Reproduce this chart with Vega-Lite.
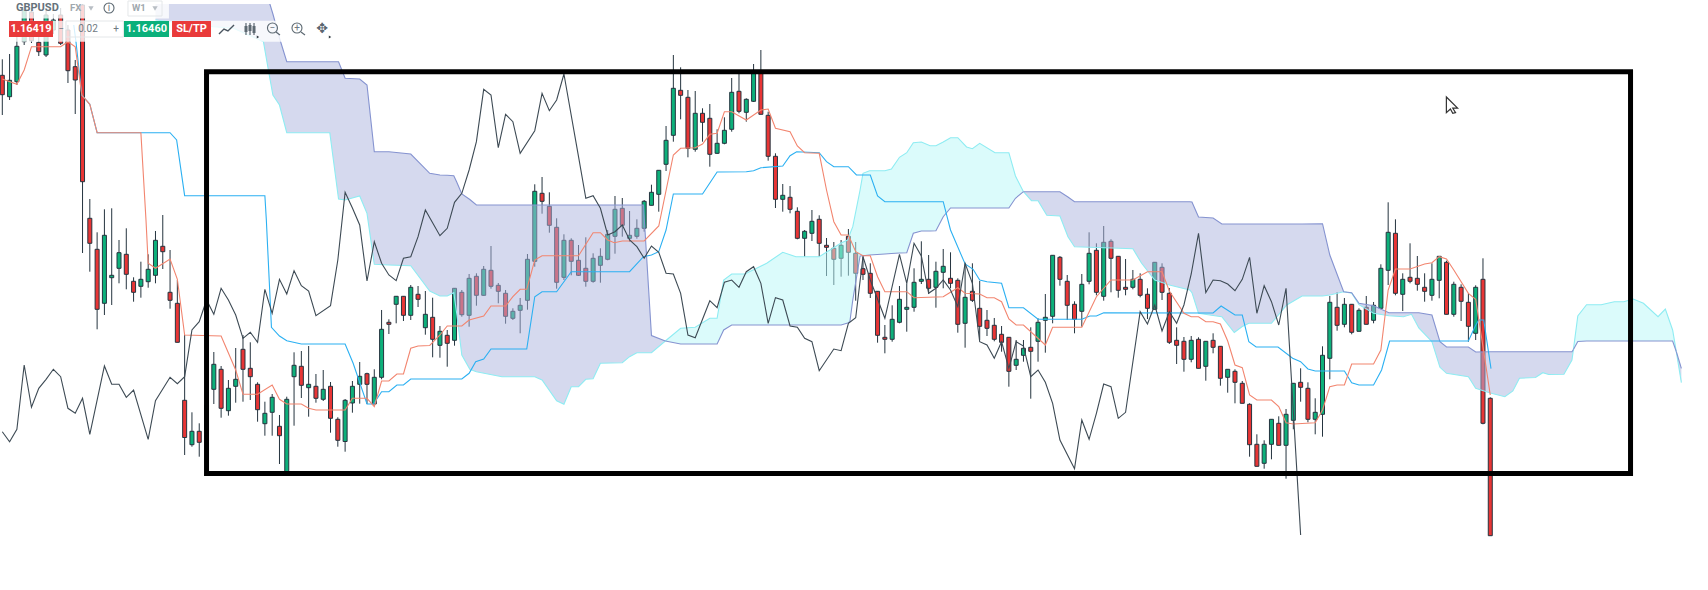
{
"$schema":"https://vega.github.io/schema/vega-lite/v6.json",
"autosize":{"type":"none"},
"padding":0,
"width":1708,
"height":590,
"background":"white",
"config":{"view":{"stroke":null},"axis":{"grid":false}},
"datasets":{
"candles":[
{"week":0,"open":1.6247,"high":1.6407,"low":1.585,"close":1.6053},{"week":1,"open":1.6033,"high":1.646,"low":1.6,"close":1.6197},{"week":2,"open":1.6183,"high":1.664,"low":1.615,"close":1.6537},{"week":3,"open":1.6583,"high":1.694,"low":1.655,"close":1.69},{"week":4,"open":1.688,"high":1.692,"low":1.657,"close":1.6593},{"week":5,"open":1.6577,"high":1.667,"low":1.644,"close":1.6483},{"week":6,"open":1.645,"high":1.69,"low":1.643,"close":1.685},{"week":7,"open":1.67,"high":1.686,"low":1.666,"close":1.68},{"week":8,"open":1.685,"high":1.692,"low":1.655,"close":1.6567},{"week":9,"open":1.67,"high":1.675,"low":1.617,"close":1.6293},
{"week":10,"open":1.6333,"high":1.64,"low":1.586,"close":1.62},{"week":11,"open":1.695,"high":1.7,"low":1.447,"close":1.5183},{"week":12,"open":1.4817,"high":1.501,"low":1.4283,"close":1.4567},{"week":13,"open":1.4507,"high":1.4677,"low":1.3707,"close":1.3907},{"week":14,"open":1.3967,"high":1.4907,"low":1.385,"close":1.4647},{"week":15,"open":1.4223,"high":1.4917,"low":1.395,"close":1.4247},{"week":16,"open":1.4317,"high":1.46,"low":1.4167,"close":1.4473},{"week":17,"open":1.4457,"high":1.4717,"low":1.4107,"close":1.4257},{"week":18,"open":1.4187,"high":1.4227,"low":1.3983,"close":1.4077},{"week":19,"open":1.4137,"high":1.4383,"low":1.4023,"close":1.4207},
{"week":20,"open":1.4183,"high":1.4457,"low":1.4123,"close":1.4307},{"week":21,"open":1.4247,"high":1.469,"low":1.4167,"close":1.4597},{"week":22,"open":1.4537,"high":1.485,"low":1.431,"close":1.4483},{"week":23,"open":1.4077,"high":1.45,"low":1.3913,"close":1.3997},{"week":24,"open":1.3967,"high":1.42,"low":1.3577,"close":1.3577},{"week":25,"open":1.2997,"high":1.365,"low":1.245,"close":1.2625},{"week":26,"open":1.2553,"high":1.2877,"low":1.2533,"close":1.2687},{"week":27,"open":1.2687,"high":1.2767,"low":1.2433,"close":1.2577},{"week":28,"open":1.27,"high":1.305,"low":1.26,"close":1.295},{"week":29,"open":1.3107,"high":1.348,"low":1.296,"close":1.3357},
{"week":30,"open":1.3307,"high":1.334,"low":1.2823,"close":1.2917},{"week":31,"open":1.2893,"high":1.32,"low":1.2843,"close":1.3117},{"week":32,"open":1.3137,"high":1.352,"low":1.2973,"close":1.3207},{"week":33,"open":1.3507,"high":1.365,"low":1.2983,"close":1.3307},{"week":34,"open":1.3317,"high":1.3577,"low":1.3,"close":1.3233},{"week":35,"open":1.3157,"high":1.3177,"low":1.2783,"close":1.2903},{"week":36,"open":1.2763,"high":1.2983,"low":1.2643,"close":1.2867},{"week":37,"open":1.2877,"high":1.306,"low":1.2643,"close":1.3027},{"week":38,"open":1.2737,"high":1.285,"low":1.236,"close":1.2643},{"week":39,"open":1.228,"high":1.3033,"low":1.228,"close":1.3007},
{"week":40,"open":1.3233,"high":1.3477,"low":1.2743,"close":1.3347},{"week":41,"open":1.3337,"high":1.349,"low":1.302,"close":1.3147},{"week":42,"open":1.3123,"high":1.354,"low":1.2833,"close":1.3157},{"week":43,"open":1.3137,"high":1.326,"low":1.2973,"close":1.3017},{"week":44,"open":1.3007,"high":1.33,"low":1.299,"close":1.3107},{"week":45,"open":1.3137,"high":1.318,"low":1.2673,"close":1.2817},{"week":46,"open":1.2807,"high":1.2827,"low":1.2533,"close":1.2597},{"week":47,"open":1.2585,"high":1.301,"low":1.2483,"close":1.2997},{"week":48,"open":1.297,"high":1.319,"low":1.2873,"close":1.3137},{"week":49,"open":1.3157,"high":1.338,"low":1.2963,"close":1.3237},
{"week":50,"open":1.3263,"high":1.3273,"low":1.296,"close":1.3157},{"week":51,"open":1.296,"high":1.3307,"low":1.296,"close":1.3227},{"week":52,"open":1.3227,"high":1.39,"low":1.3207,"close":1.3707},{"week":53,"open":1.3777,"high":1.3807,"low":1.366,"close":1.3757},{"week":54,"open":1.3957,"high":1.404,"low":1.3767,"close":1.4037},{"week":55,"open":1.4037,"high":1.404,"low":1.379,"close":1.3847},{"week":56,"open":1.3847,"high":1.415,"low":1.38,"close":1.4127},{"week":57,"open":1.4057,"high":1.414,"low":1.393,"close":1.4007},{"week":58,"open":1.3723,"high":1.409,"low":1.3653,"close":1.3857},{"week":59,"open":1.3827,"high":1.4023,"low":1.3427,"close":1.3607},
{"week":60,"open":1.3547,"high":1.374,"low":1.3423,"close":1.3687},{"week":61,"open":1.3647,"high":1.37,"low":1.3333,"close":1.3567},{"week":62,"open":1.3597,"high":1.412,"low":1.3543,"close":1.4117},{"week":63,"open":1.4077,"high":1.41,"low":1.3833,"close":1.3853},{"week":64,"open":1.3847,"high":1.426,"low":1.3733,"close":1.4217},{"week":65,"open":1.4237,"high":1.4267,"low":1.3943,"close":1.4047},{"week":66,"open":1.4047,"high":1.434,"low":1.4043,"close":1.4307},{"week":67,"open":1.4297,"high":1.454,"low":1.4113,"close":1.4137},{"week":68,"open":1.4147,"high":1.417,"low":1.3967,"close":1.4087},{"week":69,"open":1.4067,"high":1.41,"low":1.3763,"close":1.3837},
{"week":70,"open":1.3817,"high":1.3917,"low":1.38,"close":1.3887},{"week":71,"open":1.3897,"high":1.402,"low":1.3667,"close":1.3947},{"week":72,"open":1.3997,"high":1.446,"low":1.3903,"close":1.4407},{"week":73,"open":1.4387,"high":1.5157,"low":1.4333,"close":1.5087},{"week":74,"open":1.5067,"high":1.523,"low":1.4863,"close":1.4987},{"week":75,"open":1.4937,"high":1.5077,"low":1.4673,"close":1.4747},{"week":76,"open":1.4727,"high":1.4817,"low":1.4113,"close":1.4177},{"week":77,"open":1.4227,"high":1.4657,"low":1.42,"close":1.4597},{"week":78,"open":1.4597,"high":1.4617,"low":1.4247,"close":1.4387},{"week":79,"open":1.4397,"high":1.455,"low":1.424,"close":1.4247},
{"week":80,"open":1.4317,"high":1.4627,"low":1.4133,"close":1.4187},{"week":81,"open":1.4187,"high":1.4467,"low":1.4173,"close":1.4417},{"week":82,"open":1.4347,"high":1.4517,"low":1.4173,"close":1.4437},{"week":83,"open":1.4407,"high":1.47,"low":1.4397,"close":1.4657},{"week":84,"open":1.4637,"high":1.504,"low":1.4463,"close":1.4907},{"week":85,"open":1.4917,"high":1.502,"low":1.4633,"close":1.4747},{"week":86,"open":1.4617,"high":1.489,"low":1.4583,"close":1.4647},{"week":87,"open":1.4637,"high":1.4807,"low":1.4613,"close":1.4717},{"week":88,"open":1.4717,"high":1.5,"low":1.4683,"close":1.4987},{"week":89,"open":1.4947,"high":1.5153,"low":1.4947,"close":1.5077},
{"week":90,"open":1.5057,"high":1.53,"low":1.4883,"close":1.5297},{"week":91,"open":1.5357,"high":1.574,"low":1.529,"close":1.5597},{"week":92,"open":1.5647,"high":1.645,"low":1.5583,"close":1.6117},{"week":93,"open":1.6097,"high":1.6327,"low":1.5807,"close":1.6047},{"week":94,"open":1.6027,"high":1.61,"low":1.5427,"close":1.5517},{"week":95,"open":1.5507,"high":1.609,"low":1.5483,"close":1.5867},{"week":96,"open":1.5867,"high":1.5917,"low":1.5583,"close":1.5777},{"week":97,"open":1.5817,"high":1.596,"low":1.5333,"close":1.5457},{"week":98,"open":1.5467,"high":1.5707,"low":1.546,"close":1.5567},{"week":99,"open":1.5567,"high":1.5827,"low":1.5557,"close":1.5697},
{"week":100,"open":1.5707,"high":1.622,"low":1.5683,"close":1.6077},{"week":101,"open":1.6087,"high":1.627,"low":1.5867,"close":1.5887},{"week":102,"open":1.5877,"high":1.6017,"low":1.5783,"close":1.6007},{"week":103,"open":1.5987,"high":1.636,"low":1.598,"close":1.6267},{"week":104,"open":1.6277,"high":1.65,"low":1.5857,"close":1.5857},{"week":105,"open":1.5847,"high":1.5883,"low":1.5393,"close":1.5437},{"week":106,"open":1.5437,"high":1.5467,"low":1.492,"close":1.5007},{"week":107,"open":1.5007,"high":1.516,"low":1.4883,"close":1.5047},{"week":108,"open":1.5027,"high":1.514,"low":1.4867,"close":1.4907},{"week":109,"open":1.4887,"high":1.4927,"low":1.4607,"close":1.4617},
{"week":110,"open":1.4617,"high":1.47,"low":1.4433,"close":1.4687},{"week":111,"open":1.4667,"high":1.49,"low":1.459,"close":1.4787},{"week":112,"open":1.4807,"high":1.4847,"low":1.4433,"close":1.4567},{"week":113,"open":1.4547,"high":1.462,"low":1.424,"close":1.4527},{"week":114,"open":1.4517,"high":1.458,"low":1.415,"close":1.4407},{"week":115,"open":1.4417,"high":1.46,"low":1.4233,"close":1.4547},{"week":116,"open":1.4637,"high":1.471,"low":1.4243,"close":1.4477},{"week":117,"open":1.4467,"high":1.458,"low":1.3993,"close":1.4267},{"week":118,"open":1.4313,"high":1.445,"low":1.42,"close":1.4257},{"week":119,"open":1.4267,"high":1.4367,"low":1.402,"close":1.4067},
{"week":120,"open":1.4087,"high":1.409,"low":1.3573,"close":1.3647},{"week":121,"open":1.3627,"high":1.375,"low":1.3467,"close":1.3607},{"week":122,"open":1.3607,"high":1.3947,"low":1.3583,"close":1.3807},{"week":123,"open":1.3777,"high":1.414,"low":1.3767,"close":1.4007},{"week":124,"open":1.3907,"high":1.4167,"low":1.3683,"close":1.3927},{"week":125,"open":1.3927,"high":1.4317,"low":1.3883,"close":1.4177},{"week":126,"open":1.4187,"high":1.4587,"low":1.416,"close":1.4207},{"week":127,"open":1.4207,"high":1.445,"low":1.406,"close":1.4117},{"week":128,"open":1.4127,"high":1.4383,"low":1.3923,"close":1.4287},{"week":129,"open":1.4277,"high":1.451,"low":1.4117,"close":1.4337},
{"week":130,"open":1.4217,"high":1.4477,"low":1.4117,"close":1.4167},{"week":131,"open":1.4197,"high":1.4217,"low":1.3673,"close":1.3757},{"week":132,"open":1.3767,"high":1.437,"low":1.3523,"close":1.4027},{"week":133,"open":1.4087,"high":1.4367,"low":1.398,"close":1.3997},{"week":134,"open":1.3917,"high":1.419,"low":1.36,"close":1.3737},{"week":135,"open":1.3797,"high":1.39,"low":1.364,"close":1.3717},{"week":136,"open":1.3747,"high":1.382,"low":1.3587,"close":1.3607},{"week":137,"open":1.3657,"high":1.374,"low":1.3483,"close":1.3577},{"week":138,"open":1.3627,"high":1.363,"low":1.3133,"close":1.3287},{"week":139,"open":1.3347,"high":1.36,"low":1.33,"close":1.3407},
{"week":140,"open":1.3447,"high":1.36,"low":1.3383,"close":1.3517},{"week":141,"open":1.3527,"high":1.3727,"low":1.3013,"close":1.3487},{"week":142,"open":1.3587,"high":1.3817,"low":1.3383,"close":1.3777},{"week":143,"open":1.3797,"high":1.406,"low":1.3473,"close":1.3827},{"week":144,"open":1.3837,"high":1.4447,"low":1.3767,"close":1.4447},{"week":145,"open":1.4427,"high":1.444,"low":1.4143,"close":1.4207},{"week":146,"open":1.4187,"high":1.425,"low":1.38,"close":1.3947},{"week":147,"open":1.3957,"high":1.3987,"low":1.3667,"close":1.3807},{"week":148,"open":1.3887,"high":1.426,"low":1.3733,"close":1.4157},{"week":149,"open":1.4187,"high":1.4677,"low":1.4157,"close":1.4467},
{"week":150,"open":1.4497,"high":1.4567,"low":1.4047,"close":1.4077},{"week":151,"open":1.4037,"high":1.474,"low":1.3993,"close":1.4577},{"week":152,"open":1.4587,"high":1.4607,"low":1.4077,"close":1.4417},{"week":153,"open":1.4437,"high":1.444,"low":1.4023,"close":1.4097},{"week":154,"open":1.4127,"high":1.441,"low":1.4047,"close":1.4107},{"week":155,"open":1.4127,"high":1.43,"low":1.4107,"close":1.4207},{"week":156,"open":1.4207,"high":1.4267,"low":1.4027,"close":1.4047},{"week":157,"open":1.4057,"high":1.4117,"low":1.381,"close":1.3917},{"week":158,"open":1.3907,"high":1.438,"low":1.3907,"close":1.4377},{"week":159,"open":1.4327,"high":1.4367,"low":1.4,"close":1.4077},
{"week":160,"open":1.4067,"high":1.412,"low":1.356,"close":1.3577},{"week":161,"open":1.3597,"high":1.3727,"low":1.336,"close":1.3547},{"week":162,"open":1.3587,"high":1.363,"low":1.3283,"close":1.3407},{"week":163,"open":1.3407,"high":1.364,"low":1.3377,"close":1.3597},{"week":164,"open":1.3607,"high":1.3627,"low":1.3317,"close":1.3317},{"week":165,"open":1.3337,"high":1.359,"low":1.3193,"close":1.3587},{"week":166,"open":1.3597,"high":1.3667,"low":1.3467,"close":1.3527},{"week":167,"open":1.3537,"high":1.354,"low":1.3143,"close":1.3217},{"week":168,"open":1.3227,"high":1.3307,"low":1.3073,"close":1.3307},{"week":169,"open":1.3287,"high":1.3307,"low":1.2967,"close":1.3177},
{"week":170,"open":1.3167,"high":1.319,"low":1.2967,"close":1.2967},{"week":171,"open":1.2957,"high":1.2967,"low":1.2433,"close":1.2553},{"week":172,"open":1.2557,"high":1.2657,"low":1.2337,"close":1.2337},{"week":173,"open":1.2367,"high":1.2597,"low":1.2313,"close":1.2557},{"week":174,"open":1.2557,"high":1.2807,"low":1.2407,"close":1.2807},{"week":175,"open":1.2767,"high":1.2837,"low":1.2547,"close":1.2547},{"week":176,"open":1.2547,"high":1.291,"low":1.2213,"close":1.2857},{"week":177,"open":1.2797,"high":1.317,"low":1.2707,"close":1.3167},{"week":178,"open":1.3177,"high":1.3317,"low":1.2983,"close":1.3127},{"week":179,"open":1.3117,"high":1.3177,"low":1.2777,"close":1.2807},
{"week":180,"open":1.2807,"high":1.3017,"low":1.2657,"close":1.2877},{"week":181,"open":1.2857,"high":1.3537,"low":1.2633,"close":1.3447},{"week":182,"open":1.3417,"high":1.404,"low":1.3207,"close":1.3977},{"week":183,"open":1.3927,"high":1.4077,"low":1.3693,"close":1.3747},{"week":184,"open":1.3757,"high":1.402,"low":1.3727,"close":1.3957},{"week":185,"open":1.3957,"high":1.396,"low":1.3657,"close":1.3677},{"week":186,"open":1.3687,"high":1.3917,"low":1.3687,"close":1.3897},{"week":187,"open":1.3927,"high":1.404,"low":1.3757,"close":1.3757},{"week":188,"open":1.3797,"high":1.398,"low":1.3767,"close":1.3947},{"week":189,"open":1.3917,"high":1.4357,"low":1.3907,"close":1.4317},
{"week":190,"open":1.4297,"high":1.4977,"low":1.415,"close":1.4677},{"week":191,"open":1.4667,"high":1.4807,"low":1.4047,"close":1.4067},{"week":192,"open":1.4057,"high":1.4267,"low":1.389,"close":1.4207},{"week":193,"open":1.4227,"high":1.4567,"low":1.4167,"close":1.4187},{"week":194,"open":1.4217,"high":1.444,"low":1.4093,"close":1.4157},{"week":195,"open":1.4127,"high":1.4267,"low":1.3983,"close":1.4087},{"week":196,"open":1.4047,"high":1.4367,"low":1.3993,"close":1.4207},{"week":197,"open":1.4197,"high":1.444,"low":1.4017,"close":1.4437},{"week":198,"open":1.4377,"high":1.4393,"low":1.3857,"close":1.3857},{"week":199,"open":1.3857,"high":1.4183,"low":1.3833,"close":1.4157},
{"week":200,"open":1.4127,"high":1.4157,"low":1.379,"close":1.3987},{"week":201,"open":1.3977,"high":1.4067,"low":1.3583,"close":1.3737},{"week":202,"open":1.3667,"high":1.4147,"low":1.36,"close":1.4127},{"week":203,"open":1.4207,"high":1.4417,"low":1.2757,"close":1.2767},{"week":204,"open":1.3017,"high":1.3027,"low":1.1643,"close":1.1643}
],
"cloud":[
{"seg":"s1","side":"bear","week":21,"spanA":1.68,"spanB":1.7},{"seg":"s1","side":"bear","week":28.9,"spanA":1.6733,"spanB":1.7},{"seg":"s1","side":"bear","week":31.7,"spanA":1.6717,"spanB":1.7},{"seg":"s1","side":"bear","week":35.8,"spanA":1.6583,"spanB":1.7},{"seg":"s1","side":"bear","week":36.6,"spanA":1.625,"spanB":1.698},{"seg":"s1","side":"bear","week":37.1,"spanA":1.605,"spanB":1.686},{"seg":"s1","side":"bear","week":38,"spanA":1.595,"spanB":1.662},{"seg":"s1","side":"bear","week":39,"spanA":1.5673,"spanB":1.6383},{"seg":"s1","side":"bear","week":44.9,"spanA":1.5673,"spanB":1.6383},{"seg":"s1","side":"bear","week":46.1,"spanA":1.501,"spanB":1.6383},{"seg":"s1","side":"bear","week":47,"spanA":1.5,"spanB":1.6217},{"seg":"s1","side":"bear","week":49,"spanA":1.504,"spanB":1.621},{"seg":"s1","side":"bear","week":50,"spanA":1.4867,"spanB":1.615},{"seg":"s1","side":"bear","week":51,"spanA":1.4357,"spanB":1.5483},{"seg":"s1","side":"bear","week":53,"spanA":1.435,"spanB":1.5483},{"seg":"s1","side":"bear","week":56,"spanA":1.4343,"spanB":1.546},{"seg":"s1","side":"bear","week":58.6,"spanA":1.409,"spanB":1.5267},{"seg":"s1","side":"bear","week":60,"spanA":1.404,"spanB":1.525},{"seg":"s1","side":"bear","week":61,"spanA":1.404,"spanB":1.5247},{"seg":"s1","side":"bear","week":61.9,"spanA":1.4073,"spanB":1.5243},{"seg":"s1","side":"bear","week":62.3,"spanA":1.3867,"spanB":1.518},{"seg":"s1","side":"bear","week":63,"spanA":1.345,"spanB":1.506},{"seg":"s1","side":"bear","week":64.1,"spanA":1.3307,"spanB":1.5005},{"seg":"s1","side":"bear","week":65,"spanA":1.3283,"spanB":1.495},{"seg":"s1","side":"bear","week":68.5,"spanA":1.3233,"spanB":1.495},{"seg":"s1","side":"bear","week":73,"spanA":1.3233,"spanB":1.495},{"seg":"s1","side":"bear","week":74,"spanA":1.32,"spanB":1.495},{"seg":"s1","side":"bear","week":76,"spanA":1.2993,"spanB":1.495},{"seg":"s1","side":"bear","week":77,"spanA":1.2957,"spanB":1.495},{"seg":"s1","side":"bear","week":78,"spanA":1.3133,"spanB":1.495},{"seg":"s1","side":"bear","week":79,"spanA":1.3133,"spanB":1.495},{"seg":"s1","side":"bear","week":80,"spanA":1.3207,"spanB":1.495},{"seg":"s1","side":"bear","week":81,"spanA":1.3213,"spanB":1.495},{"seg":"s1","side":"bear","week":82,"spanA":1.3367,"spanB":1.495},{"seg":"s1","side":"bear","week":85,"spanA":1.3373,"spanB":1.495},{"seg":"s1","side":"bear","week":86,"spanA":1.3433,"spanB":1.495},{"seg":"s1","side":"bear","week":87,"spanA":1.3473,"spanB":1.495},{"seg":"s1","side":"bear","week":87.9,"spanA":1.3473,"spanB":1.495},{"seg":"s1","side":"bear","week":89,"spanA":1.3473,"spanB":1.3645},{"seg":"s1","side":"bear","week":90.9,"spanA":1.359,"spanB":1.359},
{"seg":"s2","side":"bull","week":90.9,"spanA":1.359,"spanB":1.359},{"seg":"s2","side":"bull","week":93,"spanA":1.3717,"spanB":1.356},{"seg":"s2","side":"bull","week":95,"spanA":1.3727,"spanB":1.356},{"seg":"s2","side":"bull","week":97,"spanA":1.3817,"spanB":1.356},{"seg":"s2","side":"bull","week":98,"spanA":1.3817,"spanB":1.356},{"seg":"s2","side":"bull","week":98.9,"spanA":1.42,"spanB":1.37},{"seg":"s2","side":"bull","week":100,"spanA":1.426,"spanB":1.375},{"seg":"s2","side":"bull","week":101.8,"spanA":1.426,"spanB":1.375},{"seg":"s2","side":"bull","week":104.8,"spanA":1.4367,"spanB":1.375},{"seg":"s2","side":"bull","week":107,"spanA":1.4477,"spanB":1.375},{"seg":"s2","side":"bull","week":108.8,"spanA":1.4433,"spanB":1.375},{"seg":"s2","side":"bull","week":112,"spanA":1.4433,"spanB":1.375},{"seg":"s2","side":"bull","week":115,"spanA":1.457,"spanB":1.375},{"seg":"s2","side":"bull","week":115.9,"spanA":1.46,"spanB":1.377},{"seg":"s2","side":"bull","week":116.2,"spanA":1.466,"spanB":1.3783},{"seg":"s2","side":"bull","week":116.6,"spanA":1.4733,"spanB":1.4},{"seg":"s2","side":"bull","week":117.6,"spanA":1.51,"spanB":1.444},{"seg":"s2","side":"bull","week":118,"spanA":1.5267,"spanB":1.4443},{"seg":"s2","side":"bull","week":118.9,"spanA":1.5293,"spanB":1.445},{"seg":"s2","side":"bull","week":121,"spanA":1.5293,"spanB":1.446},{"seg":"s2","side":"bull","week":121.9,"spanA":1.531,"spanB":1.4465},{"seg":"s2","side":"bull","week":123,"spanA":1.5427,"spanB":1.447},{"seg":"s2","side":"bull","week":124,"spanA":1.5473,"spanB":1.4473},{"seg":"s2","side":"bull","week":124.9,"spanA":1.5573,"spanB":1.4667},{"seg":"s2","side":"bull","week":126,"spanA":1.558,"spanB":1.469},{"seg":"s2","side":"bull","week":127.2,"spanA":1.5543,"spanB":1.469},{"seg":"s2","side":"bull","week":128,"spanA":1.5543,"spanB":1.4693},{"seg":"s2","side":"bull","week":129,"spanA":1.558,"spanB":1.4833},{"seg":"s2","side":"bull","week":130,"spanA":1.5623,"spanB":1.492},{"seg":"s2","side":"bull","week":131,"spanA":1.5623,"spanB":1.492},{"seg":"s2","side":"bull","week":132.2,"spanA":1.553,"spanB":1.492},{"seg":"s2","side":"bull","week":133,"spanA":1.5513,"spanB":1.492},{"seg":"s2","side":"bull","week":134,"spanA":1.5567,"spanB":1.492},{"seg":"s2","side":"bull","week":136.1,"spanA":1.5473,"spanB":1.492},{"seg":"s2","side":"bull","week":138,"spanA":1.5473,"spanB":1.492},{"seg":"s2","side":"bull","week":138.9,"spanA":1.524,"spanB":1.5017},{"seg":"s2","side":"bull","week":140,"spanA":1.5083,"spanB":1.5083},
{"seg":"s3","side":"bear","week":140,"spanA":1.5083,"spanB":1.5083},{"seg":"s3","side":"bear","week":141.1,"spanA":1.4993,"spanB":1.5083},{"seg":"s3","side":"bear","week":142,"spanA":1.4993,"spanB":1.5083},{"seg":"s3","side":"bear","week":143.2,"spanA":1.4847,"spanB":1.5083},{"seg":"s3","side":"bear","week":145,"spanA":1.484,"spanB":1.5083},{"seg":"s3","side":"bear","week":146.1,"spanA":1.4633,"spanB":1.503},{"seg":"s3","side":"bear","week":147,"spanA":1.4533,"spanB":1.4983},{"seg":"s3","side":"bear","week":149.1,"spanA":1.4527,"spanB":1.4983},{"seg":"s3","side":"bear","week":155,"spanA":1.4513,"spanB":1.4983},{"seg":"s3","side":"bear","week":156.2,"spanA":1.4367,"spanB":1.4983},{"seg":"s3","side":"bear","week":158,"spanA":1.42,"spanB":1.4983},{"seg":"s3","side":"bear","week":160,"spanA":1.415,"spanB":1.4983},{"seg":"s3","side":"bear","week":162.8,"spanA":1.41,"spanB":1.4983},{"seg":"s3","side":"bear","week":163.1,"spanA":1.4073,"spanB":1.498},{"seg":"s3","side":"bear","week":164,"spanA":1.3867,"spanB":1.483},{"seg":"s3","side":"bear","week":166,"spanA":1.3845,"spanB":1.482},{"seg":"s3","side":"bear","week":167.2,"spanA":1.3833,"spanB":1.476},{"seg":"s3","side":"bear","week":168.9,"spanA":1.3675,"spanB":1.476},{"seg":"s3","side":"bear","week":170,"spanA":1.3735,"spanB":1.476},{"seg":"s3","side":"bear","week":170.9,"spanA":1.3767,"spanB":1.476},{"seg":"s3","side":"bear","week":174,"spanA":1.3767,"spanB":1.476},{"seg":"s3","side":"bear","week":176.1,"spanA":1.395,"spanB":1.476},{"seg":"s3","side":"bear","week":178.2,"spanA":1.404,"spanB":1.476},{"seg":"s3","side":"bear","week":181,"spanA":1.404,"spanB":1.4763},{"seg":"s3","side":"bear","week":182,"spanA":1.405,"spanB":1.445},{"seg":"s3","side":"bear","week":183.9,"spanA":1.4083,"spanB":1.4083},{"seg":"s3","side":"bear","week":185,"spanA":1.4067,"spanB":1.4073},{"seg":"s3","side":"bear","week":186,"spanA":1.3953,"spanB":1.3967},{"seg":"s3","side":"bear","week":188,"spanA":1.3867,"spanB":1.3943},{"seg":"s3","side":"bear","week":190.1,"spanA":1.3843,"spanB":1.3873},{"seg":"s3","side":"bear","week":192.1,"spanA":1.3833,"spanB":1.3873},{"seg":"s3","side":"bear","week":193.2,"spanA":1.3857,"spanB":1.3873},{"seg":"s3","side":"bear","week":194.2,"spanA":1.372,"spanB":1.3873},{"seg":"s3","side":"bear","week":196,"spanA":1.3583,"spanB":1.385},{"seg":"s3","side":"bear","week":197.1,"spanA":1.3327,"spanB":1.3583},{"seg":"s3","side":"bear","week":198,"spanA":1.3267,"spanB":1.353},{"seg":"s3","side":"bear","week":201,"spanA":1.3233,"spanB":1.353},{"seg":"s3","side":"bear","week":202,"spanA":1.3117,"spanB":1.348},{"seg":"s3","side":"bear","week":204,"spanA":1.307,"spanB":1.3483},{"seg":"s3","side":"bear","week":206,"spanA":1.3033,"spanB":1.3483},{"seg":"s3","side":"bear","week":207.1,"spanA":1.309,"spanB":1.3483},{"seg":"s3","side":"bear","week":208,"spanA":1.3217,"spanB":1.3483},{"seg":"s3","side":"bear","week":210.2,"spanA":1.3225,"spanB":1.3483},{"seg":"s3","side":"bear","week":211.2,"spanA":1.3273,"spanB":1.3483},{"seg":"s3","side":"bear","week":212,"spanA":1.3255,"spanB":1.3483},{"seg":"s3","side":"bear","week":214.1,"spanA":1.3257,"spanB":1.3483},{"seg":"s3","side":"bear","week":215.2,"spanA":1.34,"spanB":1.3483},{"seg":"s3","side":"bear","week":215.4,"spanA":1.3505,"spanB":1.3505},
{"seg":"s4","side":"bull","week":215.4,"spanA":1.3505,"spanB":1.3505},{"seg":"s4","side":"bull","week":216,"spanA":1.384,"spanB":1.3585},{"seg":"s4","side":"bull","week":217.2,"spanA":1.3953,"spanB":1.359},{"seg":"s4","side":"bull","week":219.2,"spanA":1.3953,"spanB":1.359},{"seg":"s4","side":"bull","week":221,"spanA":1.3983,"spanB":1.359},{"seg":"s4","side":"bull","week":222.3,"spanA":1.3983,"spanB":1.359},{"seg":"s4","side":"bull","week":223.6,"spanA":1.401,"spanB":1.359},{"seg":"s4","side":"bull","week":225,"spanA":1.3967,"spanB":1.359},{"seg":"s4","side":"bull","week":227,"spanA":1.3833,"spanB":1.359},{"seg":"s4","side":"bull","week":228,"spanA":1.391,"spanB":1.359},{"seg":"s4","side":"bull","week":229,"spanA":1.37,"spanB":1.359},{"seg":"s4","side":"bull","week":229.5,"spanA":1.3485,"spanB":1.3485},
{"seg":"s5","side":"bear","week":229.5,"spanA":1.3485,"spanB":1.3485},{"seg":"s5","side":"bear","week":230.2,"spanA":1.3173,"spanB":1.3317}
],
"kijun":[{"week":9.8,"price":1.675},{"week":10.1,"price":1.6583},{"week":10.9,"price":1.605},{"week":12,"price":1.5957},{"week":13,"price":1.5673},{"week":23,"price":1.5673},{"week":23.9,"price":1.56},{"week":25,"price":1.5043},{"week":36,"price":1.5043},{"week":36.2,"price":1.48},{"week":36.9,"price":1.3727},{"week":38,"price":1.364},{"week":39,"price":1.3593},{"week":41,"price":1.356},{"week":47,"price":1.356},{"week":48.1,"price":1.3367},{"week":50,"price":1.296},{"week":50.9,"price":1.296},{"week":52,"price":1.3083},{"week":53,"price":1.3083},{"week":54.1,"price":1.315},{"week":55,"price":1.315},{"week":56,"price":1.321},{"week":63,"price":1.321},{"week":64,"price":1.3267},{"week":64.9,"price":1.3383},{"week":66,"price":1.341},{"week":67,"price":1.351},{"week":71.9,"price":1.351},{"week":73,"price":1.4033},{"week":74,"price":1.4083},{"week":76,"price":1.4083},{"week":78,"price":1.4283},{"week":86,"price":1.4283},{"week":87.9,"price":1.4433},{"week":89,"price":1.445},{"week":90,"price":1.4483},{"week":91,"price":1.47},{"week":92,"price":1.506},{"week":96,"price":1.506},{"week":98,"price":1.528},{"week":102,"price":1.5283},{"week":103,"price":1.5293},{"week":104,"price":1.5323},{"week":107,"price":1.534},{"week":108,"price":1.5443},{"week":108.9,"price":1.5483},{"week":112,"price":1.5473},{"week":113,"price":1.5383},{"week":114,"price":1.5333},{"week":116,"price":1.5333},{"week":117.1,"price":1.525},{"week":119,"price":1.525},{"week":120,"price":1.504},{"week":121,"price":1.4983},{"week":129,"price":1.4983},{"week":130,"price":1.47},{"week":132,"price":1.436},{"week":133.1,"price":1.4307},{"week":134,"price":1.42},{"week":135,"price":1.4183},{"week":137,"price":1.4167},{"week":138,"price":1.3923},{"week":140,"price":1.3923},{"week":142,"price":1.3807},{"week":148,"price":1.3807},{"week":149.1,"price":1.384},{"week":150,"price":1.384},{"week":151,"price":1.3873},{"week":166,"price":1.387},{"week":167.1,"price":1.394},{"week":169,"price":1.385},{"week":170,"price":1.385},{"week":170.9,"price":1.3583},{"week":171.9,"price":1.353},{"week":174.9,"price":1.353},{"week":176.9,"price":1.3417},{"week":178,"price":1.3383},{"week":179,"price":1.331},{"week":180,"price":1.329},{"week":184,"price":1.329},{"week":185,"price":1.3173},{"week":186,"price":1.315},{"week":188,"price":1.315},{"week":189.1,"price":1.33},{"week":190.2,"price":1.359},{"week":201,"price":1.359},{"week":201.9,"price":1.3733},{"week":202.4,"price":1.38},{"week":203.1,"price":1.38},{"week":204.1,"price":1.3313}],
"tenkan":[{"week":0,"price":1.621},{"week":2,"price":1.6157},{"week":3,"price":1.63},{"week":4,"price":1.6533},{"week":8,"price":1.6533},{"week":9,"price":1.6583},{"week":10,"price":1.6533},{"week":10.9,"price":1.605},{"week":12,"price":1.5957},{"week":13,"price":1.5673},{"week":19,"price":1.5673},{"week":19.7,"price":1.48},{"week":20,"price":1.4367},{"week":21,"price":1.4317},{"week":23,"price":1.441},{"week":24,"price":1.4207},{"week":25,"price":1.365},{"week":30,"price":1.364},{"week":32,"price":1.33},{"week":33,"price":1.3057},{"week":35,"price":1.3057},{"week":37,"price":1.315},{"week":38,"price":1.3007},{"week":39,"price":1.296},{"week":41,"price":1.296},{"week":42,"price":1.2917},{"week":43,"price":1.29},{"week":47,"price":1.29},{"week":48,"price":1.3017},{"week":50,"price":1.3017},{"week":51,"price":1.2933},{"week":52,"price":1.319},{"week":53,"price":1.319},{"week":54.1,"price":1.326},{"week":55,"price":1.326},{"week":56,"price":1.3517},{"week":57,"price":1.354},{"week":58.6,"price":1.3545},{"week":60,"price":1.365},{"week":61,"price":1.374},{"week":63,"price":1.374},{"week":64,"price":1.38},{"week":66,"price":1.384},{"week":67,"price":1.394},{"week":69,"price":1.394},{"week":70,"price":1.4033},{"week":71,"price":1.4107},{"week":71.9,"price":1.4107},{"week":73,"price":1.44},{"week":74,"price":1.4443},{"week":79,"price":1.4443},{"week":81,"price":1.4673},{"week":82,"price":1.4673},{"week":83,"price":1.46},{"week":83.9,"price":1.4573},{"week":85,"price":1.459},{"week":88,"price":1.459},{"week":90,"price":1.474},{"week":92,"price":1.545},{"week":93,"price":1.5517},{"week":95,"price":1.5523},{"week":96,"price":1.556},{"week":97,"price":1.5657},{"week":98,"price":1.5667},{"week":99,"price":1.5883},{"week":100,"price":1.5883},{"week":102,"price":1.58},{"week":104,"price":1.59},{"week":105,"price":1.591},{"week":106,"price":1.5717},{"week":108,"price":1.5683},{"week":109,"price":1.554},{"week":110,"price":1.5473},{"week":112,"price":1.5467},{"week":113,"price":1.51},{"week":114,"price":1.4783},{"week":115,"price":1.465},{"week":116,"price":1.465},{"week":117,"price":1.4483},{"week":118,"price":1.4443},{"week":119,"price":1.4443},{"week":120,"price":1.4233},{"week":121,"price":1.4083},{"week":124,"price":1.4083},{"week":125,"price":1.4023},{"week":129,"price":1.4033},{"week":131,"price":1.4123},{"week":132,"price":1.4067},{"week":134,"price":1.406},{"week":135,"price":1.4023},{"week":136,"price":1.4023},{"week":137,"price":1.3983},{"week":138,"price":1.381},{"week":139,"price":1.375},{"week":140,"price":1.375},{"week":143,"price":1.355},{"week":144,"price":1.3727},{"week":148,"price":1.3727},{"week":150,"price":1.4033},{"week":152,"price":1.42},{"week":155,"price":1.42},{"week":157,"price":1.4283},{"week":159,"price":1.4283},{"week":160,"price":1.409},{"week":162,"price":1.3867},{"week":163,"price":1.3833},{"week":164,"price":1.3833},{"week":165,"price":1.3783},{"week":166,"price":1.3783},{"week":167,"price":1.376},{"week":168,"price":1.359},{"week":169,"price":1.335},{"week":170,"price":1.3323},{"week":171,"price":1.305},{"week":172,"price":1.3},{"week":174,"price":1.3},{"week":175,"price":1.2935},{"week":176,"price":1.2773},{"week":177,"price":1.276},{"week":180,"price":1.2773},{"week":181,"price":1.29},{"week":182,"price":1.3133},{"week":183,"price":1.315},{"week":184,"price":1.315},{"week":185,"price":1.336},{"week":188,"price":1.336},{"week":189,"price":1.35},{"week":190,"price":1.41},{"week":191,"price":1.431},{"week":193,"price":1.431},{"week":195,"price":1.436},{"week":196,"price":1.4373},{"week":197,"price":1.4433},{"week":198,"price":1.441},{"week":199,"price":1.43},{"week":201,"price":1.4067},{"week":202,"price":1.4007},{"week":203,"price":1.3533},{"week":204,"price":1.305}],
"chikou":[{"week":0,"price":1.2683},{"week":1,"price":1.2583},{"week":2,"price":1.2707},{"week":3,"price":1.335},{"week":4,"price":1.2927},{"week":5,"price":1.3117},{"week":6,"price":1.3207},{"week":7,"price":1.3307},{"week":8,"price":1.3233},{"week":9,"price":1.2917},{"week":10,"price":1.2867},{"week":11,"price":1.3017},{"week":12,"price":1.2657},{"week":14,"price":1.334},{"week":15,"price":1.3157},{"week":16,"price":1.3157},{"week":17,"price":1.3027},{"week":18,"price":1.31},{"week":20,"price":1.2607},{"week":21,"price":1.2993},{"week":23,"price":1.3227},{"week":24,"price":1.3163},{"week":25,"price":1.3233},{"week":26,"price":1.37},{"week":27,"price":1.3783},{"week":28,"price":1.4},{"week":29,"price":1.3857},{"week":30,"price":1.4117},{"week":31,"price":1.4},{"week":32,"price":1.385},{"week":33,"price":1.3617},{"week":34,"price":1.3677},{"week":35,"price":1.3577},{"week":36,"price":1.4107},{"week":37,"price":1.3867},{"week":38,"price":1.4207},{"week":39,"price":1.406},{"week":40,"price":1.4293},{"week":41,"price":1.4143},{"week":42,"price":1.409},{"week":43,"price":1.3843},{"week":45,"price":1.3943},{"week":46,"price":1.44},{"week":47,"price":1.5077},{"week":48,"price":1.492},{"week":49,"price":1.475},{"week":50,"price":1.419},{"week":51,"price":1.4583},{"week":52,"price":1.4367},{"week":53,"price":1.425},{"week":54,"price":1.4193},{"week":55,"price":1.4417},{"week":56,"price":1.4433},{"week":57,"price":1.4633},{"week":58,"price":1.49},{"week":60,"price":1.4643},{"week":61,"price":1.4717},{"week":62,"price":1.4977},{"week":63,"price":1.5067},{"week":64,"price":1.53},{"week":65,"price":1.5583},{"week":66,"price":1.6107},{"week":67,"price":1.605},{"week":68,"price":1.5523},{"week":69,"price":1.5857},{"week":70,"price":1.5783},{"week":71,"price":1.5467},{"week":73,"price":1.5693},{"week":74,"price":1.6067},{"week":75,"price":1.5893},{"week":76,"price":1.6},{"week":77,"price":1.626},{"week":79,"price":1.5433},{"week":80,"price":1.5017},{"week":81,"price":1.5043},{"week":82,"price":1.4917},{"week":83,"price":1.465},{"week":84,"price":1.4683},{"week":85,"price":1.475},{"week":86,"price":1.46},{"week":87,"price":1.4533},{"week":88,"price":1.4417},{"week":89,"price":1.454},{"week":90,"price":1.4477},{"week":91,"price":1.4267},{"week":92,"price":1.426},{"week":93,"price":1.4067},{"week":94,"price":1.365},{"week":95,"price":1.3623},{"week":97,"price":1.3993},{"week":98,"price":1.3923},{"week":99,"price":1.4177},{"week":100,"price":1.42},{"week":101,"price":1.4127},{"week":102,"price":1.4283},{"week":103,"price":1.4333},{"week":104,"price":1.4167},{"week":105,"price":1.3767},{"week":106,"price":1.4023},{"week":107,"price":1.4},{"week":108,"price":1.374},{"week":109,"price":1.3727},{"week":110,"price":1.3617},{"week":111,"price":1.3583},{"week":112,"price":1.3293},{"week":114,"price":1.351},{"week":115,"price":1.3493},{"week":116,"price":1.3767},{"week":117,"price":1.3823},{"week":118,"price":1.4433},{"week":119,"price":1.42},{"week":121,"price":1.3817},{"week":123,"price":1.4457},{"week":124,"price":1.4167},{"week":125,"price":1.4567},{"week":126,"price":1.444},{"week":127,"price":1.4067},{"week":128,"price":1.4117},{"week":129,"price":1.42},{"week":130,"price":1.41},{"week":131,"price":1.3933},{"week":132,"price":1.4367},{"week":133,"price":1.4167},{"week":134,"price":1.3583},{"week":135,"price":1.355},{"week":136,"price":1.3417},{"week":137,"price":1.3583},{"week":138,"price":1.3317},{"week":139,"price":1.3583},{"week":140,"price":1.354},{"week":141,"price":1.3233},{"week":142,"price":1.33},{"week":143,"price":1.3177},{"week":144,"price":1.2967},{"week":145,"price":1.26},{"week":147,"price":1.2313},{"week":148,"price":1.28},{"week":149,"price":1.2607},{"week":150,"price":1.2867},{"week":151,"price":1.316},{"week":152,"price":1.3133},{"week":153,"price":1.2817},{"week":154,"price":1.2877},{"week":156,"price":1.3883},{"week":157,"price":1.376},{"week":158,"price":1.395},{"week":159,"price":1.369},{"week":160,"price":1.3883},{"week":161,"price":1.3767},{"week":162,"price":1.395},{"week":163,"price":1.426},{"week":164,"price":1.4667},{"week":165,"price":1.4075},{"week":166,"price":1.42},{"week":167,"price":1.4193},{"week":168,"price":1.416},{"week":169,"price":1.4093},{"week":170,"price":1.4207},{"week":171,"price":1.4427},{"week":172,"price":1.3867},{"week":173,"price":1.4143},{"week":174,"price":1.3983},{"week":175,"price":1.375},{"week":176,"price":1.4117},{"week":178,"price":1.165}]
},
"layer":[
{"data":{"name":"candles"},"mark":{"type":"rule","color":"#25343f","strokeWidth":1},
 "encoding":{"x":{"field":"week","type":"quantitative","scale":{"domain":[-0.315,233.85],"nice":false,"zero":false,"padding":0},"axis":null},"y":{"field":"low","type":"quantitative","scale":{"domain":[1.11,1.7],"nice":false,"zero":false},"axis":null},"y2":{"field":"high"}}},
{"data":{"name":"candles"},"mark":{"type":"bar","size":4,"stroke":"#25343f","strokeWidth":1},
 "encoding":{"x":{"field":"week","type":"quantitative"},"y":{"field":"open","type":"quantitative"},"y2":{"field":"close"},"fill":{"condition":{"test":"datum.close > datum.open","value":"#0db07a"},"value":"#e83535"}}},
{"data":{"name":"cloud"},"mark":{"type":"area","opacity":0.5},
 "encoding":{"x":{"field":"week","type":"quantitative"},"y":{"field":"spanA","type":"quantitative"},"y2":{"field":"spanB"},"detail":{"field":"seg"},"fill":{"field":"side","type":"nominal","scale":{"domain":["bear","bull"],"range":["#abb3dd","#b7f7f7"]},"legend":null}}},
{"data":{"name":"cloud"},"mark":{"type":"line","color":"#8eecf2","strokeWidth":1.1},
 "encoding":{"x":{"field":"week","type":"quantitative"},"y":{"field":"spanA","type":"quantitative"},"detail":{"field":"seg"}}},
{"data":{"name":"cloud"},"mark":{"type":"line","color":"#8593d0","strokeWidth":1.1},
 "encoding":{"x":{"field":"week","type":"quantitative"},"y":{"field":"spanB","type":"quantitative"},"detail":{"field":"seg"}}},
{"data":{"name":"kijun"},"mark":{"type":"line","color":"#2bb0f2","strokeWidth":1.1},
 "encoding":{"x":{"field":"week","type":"quantitative"},"y":{"field":"price","type":"quantitative"}}},
{"data":{"name":"tenkan"},"mark":{"type":"line","color":"#f2856f","strokeWidth":1.1},
 "encoding":{"x":{"field":"week","type":"quantitative"},"y":{"field":"price","type":"quantitative"}}},
{"data":{"name":"chikou"},"mark":{"type":"line","color":"#3d4a54","strokeWidth":1.1},
 "encoding":{"x":{"field":"week","type":"quantitative"},"y":{"field":"price","type":"quantitative"}}},
{"data":{"values":[{"week":28,"week2":223.23,"price":1.6283,"price2":1.2265}]},"mark":{"type":"rect","fill":null,"stroke":"#000000","strokeWidth":5},
 "encoding":{"x":{"field":"week","type":"quantitative"},"x2":{"field":"week2"},"y":{"field":"price","type":"quantitative"},"y2":{"field":"price2"}}},
{"data":{"values":[{"week":198.75,"price":1.595}]},"mark":{"type":"point","shape":"M-0.7,-1 L0.7,0.4 L0.1,0.4 L0.45,0.95 L0.1,1.05 L-0.2,0.5 L-0.7,0.95 Z","size":256,"filled":true,"fill":"#ffffff","stroke":"#333333","strokeWidth":1.2,"opacity":1},
 "encoding":{"x":{"field":"week","type":"quantitative"},"y":{"field":"price","type":"quantitative"}}},
{"data":{"values":[{"week":-0.315,"week2":39.44,"price":1.7,"price2":1.696,"part":"top"},{"week":-0.315,"week2":22.85,"price":1.696,"price2":1.6815,"part":"row1"},{"week":0.64,"week2":38.5,"price":1.6793,"price2":1.6583,"part":"row2"}]},"mark":{"type":"rect"},
 "encoding":{"x":{"field":"week","type":"quantitative"},"x2":{"field":"week2"},"y":{"field":"price","type":"quantitative"},"y2":{"field":"price2"},"fill":{"value":"#ffffff"},"opacity":{"condition":{"test":"datum.part === 'top'","value":1},"value":0.8}}},
{"data":{"values":[{"week":0.92,"week2":6.95,"price":1.679,"price2":1.663,"part":"sell"},{"week":16.68,"week2":22.86,"price":1.679,"price2":1.663,"part":"buy"},{"week":23.27,"week2":28.61,"price":1.679,"price2":1.663,"part":"sltp"}]},"mark":{"type":"rect"},
 "encoding":{"x":{"field":"week","type":"quantitative"},"x2":{"field":"week2"},"y":{"field":"price","type":"quantitative"},"y2":{"field":"price2"},"fill":{"condition":{"test":"datum.part === 'buy'","value":"#0bb07b"},"value":"#e93a3a"}}},
{"data":{"values":[{"week":8.73,"week2":16.6,"price":1.679,"price2":1.663},{"week":17.23,"week2":21.9,"price":1.699,"price2":1.684}]},"mark":{"type":"rect","fill":null,"stroke":"#e4e7e9","strokeWidth":1},
 "encoding":{"x":{"field":"week","type":"quantitative"},"x2":{"field":"week2"},"y":{"field":"price","type":"quantitative"},"y2":{"field":"price2"}}},
{"data":{"values":[{"week":3.93,"price":1.671,"label":"1.16419"},{"week":19.77,"price":1.671,"label":"1.16460"},{"week":25.94,"price":1.671,"label":"SL/TP"}]},"mark":{"type":"text","font":"Roboto","fontSize":11,"fontWeight":"bold","color":"#ffffff","align":"center","baseline":"middle"},
 "encoding":{"x":{"field":"week","type":"quantitative"},"y":{"field":"price","type":"quantitative"},"text":{"field":"label"}}},
{"data":{"values":[{"week":1.88,"price":1.692,"label":"GBPUSD"}]},"mark":{"type":"text","font":"Roboto","fontSize":11,"fontWeight":"bold","color":"#66727b","align":"left","baseline":"middle"},
 "encoding":{"x":{"field":"week","type":"quantitative"},"y":{"field":"price","type":"quantitative"},"text":{"field":"label"}}},
{"data":{"values":[{"week":9.28,"price":1.692,"label":"FX"},{"week":17.78,"price":1.692,"label":"W1"}]},"mark":{"type":"text","font":"Roboto","fontSize":9.5,"fontWeight":"bold","color":"#9fa8ae","align":"left","baseline":"middle"},
 "encoding":{"x":{"field":"week","type":"quantitative"},"y":{"field":"price","type":"quantitative"},"text":{"field":"label"}}},
{"data":{"values":[{"week":8.05,"price":1.671,"label":"−"},{"week":11.75,"price":1.671,"label":"0.02"},{"week":15.59,"price":1.671,"label":"+"},{"week":14.63,"price":1.692,"label":"i"},{"week":37.04,"price":1.672,"label":"−"},{"week":40.4,"price":1.672,"label":"+"}]},"mark":{"type":"text","font":"Roboto","fontSize":10,"color":"#6f7a82","align":"center","baseline":"middle"},
 "encoding":{"x":{"field":"week","type":"quantitative"},"y":{"field":"price","type":"quantitative"},"text":{"field":"label"}}},
{"data":{"values":[{"week":43.83,"price":1.671,"label":"✥"}]},"mark":{"type":"text","font":"DejaVu Sans","fontSize":14,"color":"#5a6670","align":"center","baseline":"middle"},
 "encoding":{"x":{"field":"week","type":"quantitative"},"y":{"field":"price","type":"quantitative"},"text":{"field":"label"}}},
{"data":{"values":[{"week":12.16,"price":1.6915},{"week":20.94,"price":1.6915}]},"mark":{"type":"point","shape":"triangle-down","filled":true,"size":28,"color":"#b8bec4","opacity":1},
 "encoding":{"x":{"field":"week","type":"quantitative"},"y":{"field":"price","type":"quantitative"}}},
{"data":{"values":[{"week":35.05,"price":1.663},{"week":44.93,"price":1.663}]},"mark":{"type":"point","shape":"triangle-right","filled":true,"size":8,"color":"#333c44","opacity":1},
 "encoding":{"x":{"field":"week","type":"quantitative"},"y":{"field":"price","type":"quantitative"}}},
{"data":{"values":[{"week":14.63,"price":1.692},{"week":37.04,"price":1.672},{"week":40.4,"price":1.672}]},"mark":{"type":"point","shape":"circle","filled":false,"size":100,"color":"#5d6972","strokeWidth":1.1,"opacity":1},
 "encoding":{"x":{"field":"week","type":"quantitative"},"y":{"field":"price","type":"quantitative"}}},
{"data":{"values":[{"week":37.52,"week2":38.07,"price":1.668,"price2":1.665},{"week":40.95,"week2":41.5,"price":1.668,"price2":1.665},{"week":33.41,"week2":33.41,"price":1.677,"price2":1.665},{"week":33.96,"week2":33.96,"price":1.677,"price2":1.665},{"week":34.51,"week2":34.51,"price":1.677,"price2":1.665}]},"mark":{"type":"rule","color":"#5d6972","strokeWidth":1.2},
 "encoding":{"x":{"field":"week","type":"quantitative"},"x2":{"field":"week2"},"y":{"field":"price","type":"quantitative"},"y2":{"field":"price2"}}},
{"data":{"values":[{"week":33.41,"price":1.674,"price2":1.668},{"week":33.96,"price":1.675,"price2":1.669},{"week":34.51,"price":1.674,"price2":1.667}]},"mark":{"type":"rule","color":"#5d6972","strokeWidth":3},
 "encoding":{"x":{"field":"week","type":"quantitative"},"y":{"field":"price","type":"quantitative"},"y2":{"field":"price2"}}},
{"data":{"values":[{"week":29.71,"price":1.666},{"week":30.39,"price":1.671},{"week":30.94,"price":1.669},{"week":31.77,"price":1.675}]},"mark":{"type":"line","color":"#4a5560","strokeWidth":1.4},
 "encoding":{"x":{"field":"week","type":"quantitative"},"y":{"field":"price","type":"quantitative"}}}
]
}
